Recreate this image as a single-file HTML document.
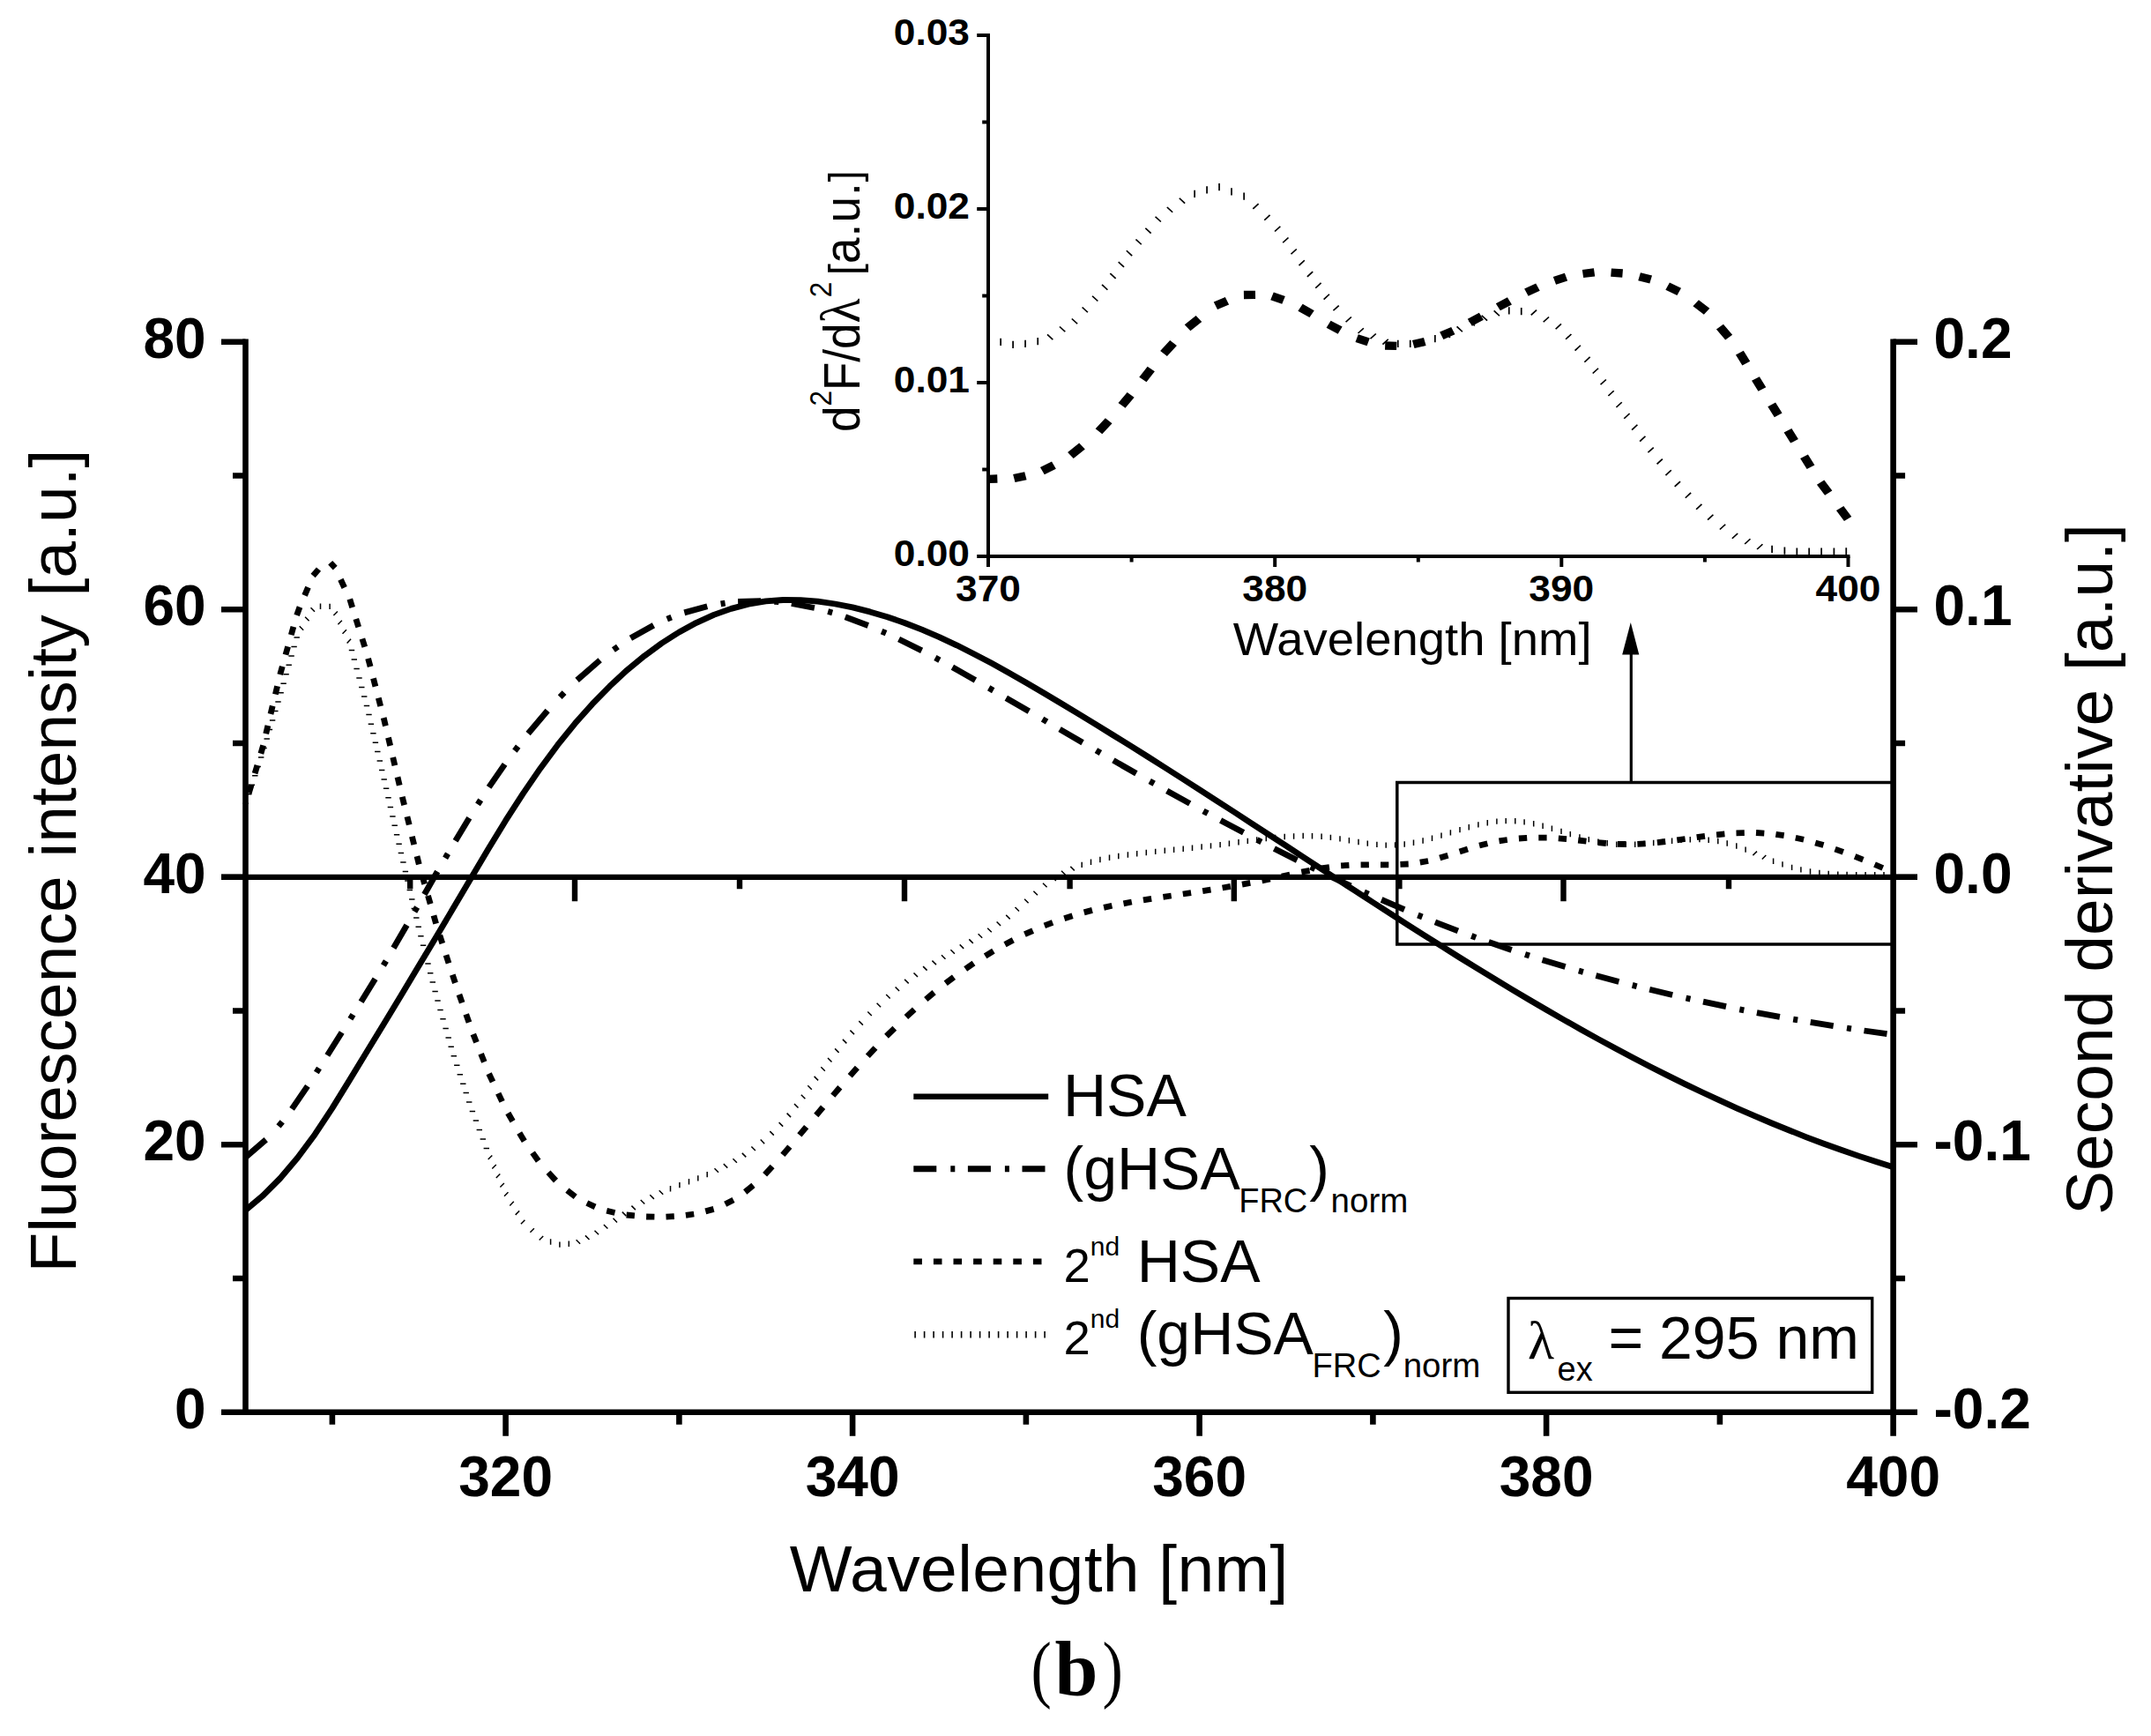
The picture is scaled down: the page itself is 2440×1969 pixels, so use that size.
<!DOCTYPE html>
<html><head><meta charset="utf-8"><title>Fluorescence spectra (b)</title>
<style>html,body{margin:0;padding:0;background:#fff}svg{display:block}text{fill:#000}</style></head><body>
<svg width="2440" height="1969" viewBox="0 0 2440 1969">
<rect width="2440" height="1969" fill="#fff"/>
<g stroke="#000" stroke-width="6.6" fill="none" stroke-linecap="butt">
<path d="M278.5 384.4 V1605.0"/>
<path d="M2147.6 384.4 V1628.7"/>
<path d="M251.0 1601.7 H2175.0"/>
<path d="M264.0 1450.0H278.5M2147.6 1450.0H2161.1M251.0 1298.2H278.5M2147.6 1298.2H2175.0M264.0 1146.5H278.5M2147.6 1146.5H2161.1M251.0 994.7H278.5M2147.6 994.7H2175.0M264.0 843.0H278.5M2147.6 843.0H2161.1M251.0 691.2H278.5M2147.6 691.2H2175.0M264.0 539.5H278.5M2147.6 539.5H2161.1M251.0 387.7H278.5M2147.6 387.7H2175.0"/>
<path d="M376.9 1601.7V1615.7M573.6 1601.7V1628.7M770.4 1601.7V1615.7M967.1 1601.7V1628.7M1163.9 1601.7V1615.7M1360.6 1601.7V1628.7M1557.4 1601.7V1615.7M1754.1 1601.7V1628.7M1950.9 1601.7V1615.7"/>
</g>
<g stroke="#000" stroke-width="6.2" fill="none">
<path d="M251.0 994.8H2175.0"/>
<path d="M465.2 994.8V1008.3M652 994.8V1022.1999999999999M839 994.8V1008.3M1026 994.8V1022.1999999999999M1213.6 994.8V1008.3M1399.8 994.8V1022.1999999999999M1587.4 994.8V1008.3M1773.5 994.8V1022.1999999999999M1961 994.8V1008.3" stroke-width="6.4"/>
</g>
<path d="M1584.8 887.4H2147.6M1584.8 885.7V1072.7M1584.8 1071H2147.6" stroke="#000" stroke-width="3.5" fill="none"/>
<path d="M1850.3 887V740" stroke="#000" stroke-width="3.2" fill="none"/>
<path d="M1849.8 706L1840.2 742.5H1859.3Z" fill="#000"/>
<path d="M278.5 1372.7 L298.2 1356.2 L317.8 1336.5 L337.5 1313.3 L357.2 1286.7 L376.9 1256.9 L396.5 1225.1 L416.2 1192.8 L435.9 1160.4 L455.6 1127.9 L475.2 1095.2 L494.9 1062.4 L514.6 1029.3 L534.3 996 L553.9 962.9 L573.6 930.7 L593.3 900.1 L613 871.4 L632.6 844.9 L652.3 820.6 L672 798.4 L691.7 778.3 L711.3 760.1 L731 743.9 L750.7 729.5 L770.4 717 L790 706.3 L809.7 697.4 L829.4 690.4 L849.1 685.2 L868.7 681.9 L888.4 680.5 L908.1 680.6 L927.8 682.2 L947.4 685 L967.1 688.9 L986.8 693.9 L1006.5 699.7 L1026.1 706.5 L1045.8 714.2 L1065.5 722.6 L1085.2 731.8 L1104.8 741.7 L1124.5 752.1 L1144.2 763 L1163.9 774.3 L1183.5 785.8 L1203.2 797.5 L1222.9 809.4 L1242.6 821.3 L1262.2 833.5 L1281.9 845.7 L1301.6 858 L1321.3 870.5 L1340.9 883 L1360.6 895.6 L1380.3 908.3 L1400 921 L1419.6 933.8 L1439.3 946.6 L1459 959.4 L1478.7 972.3 L1498.3 985.1 L1518 998 L1537.7 1010.7 L1557.4 1023.5 L1577 1036.2 L1596.7 1048.8 L1616.4 1061.3 L1636.1 1073.7 L1655.7 1086 L1675.4 1098.2 L1695.1 1110.2 L1714.8 1122.1 L1734.4 1133.7 L1754.1 1145.3 L1773.8 1156.6 L1793.5 1167.7 L1813.1 1178.6 L1832.8 1189.3 L1852.5 1199.7 L1872.2 1209.9 L1891.8 1219.9 L1911.5 1229.6 L1931.2 1239 L1950.9 1248.2 L1970.5 1257.1 L1990.2 1265.7 L2009.9 1274 L2029.6 1282 L2049.2 1289.8 L2068.9 1297.2 L2088.6 1304.3 L2108.3 1311.1 L2127.9 1317.6 L2147.6 1323.7" stroke="#000" stroke-width="6.8" fill="none" stroke-linejoin="round"/>
<path d="M278.5 1312.7 L301.7 1292.7 M316 1277.4 L320.2 1272.4 M331.1 1257.8 L348.9 1231.8 M358.9 1216.5 L362 1211.5 M371.3 1197 L387.7 1171 M397.4 1155.7 L400.5 1150.7 M409.6 1136.2 L425.6 1110.2 M434.9 1094.9 L437.9 1089.9 M446.4 1075.3 L461.5 1049.3 M470.2 1034 L473.1 1029 M481.4 1014.5 L496.2 988.5 M505.1 973.2 L508 968.2 M516.6 953.7 L532.3 927.7 M542 912.4 L545.2 907.4 M554.6 892.9 L572.6 866.9 M583.9 851.6 L587.7 846.6 M599.1 832 L621.1 806 M635.2 790.7 L640.1 785.7 M654.6 771.4 L680.6 748.8 M695.9 737 L700.9 733.5 M715.4 723.8 L741.4 709.3 M756.7 702.2 L761.7 700.2 M776.3 694.9 L802.3 687.8 M817.6 684.9 L822.6 684.1 M837.1 682.5 L863.1 681.6 M878.4 682.3 L883.4 682.7 M897.9 684.5 L923.9 689.5 M939.2 693.6 L944.2 695 M958.8 699.8 L984.8 709.5 M1000.1 716.1 L1005.1 718.2 M1019.6 725 L1045.6 737.9 M1060.9 746 L1065.9 748.7 M1080.4 756.7 L1106.4 771.5 M1121.7 780.3 L1126.7 783.2 M1141.3 791.7 L1167.3 806.8 M1182.6 815.7 L1187.6 818.7 M1202.1 827.1 L1228.1 842.2 M1243.4 851.1 L1248.4 854 M1262.9 862.4 L1288.9 877.3 M1304.2 886 L1309.2 888.8 M1323.7 897 L1349.7 911.4 M1365 919.9 L1370 922.6 M1384.6 930.5 L1410.6 944.3 M1425.9 952.4 L1430.9 955 M1445.4 962.5 L1471.4 975.6 M1486.7 983.1 L1491.7 985.6 M1506.2 992.6 L1532.2 1004.8 M1547.5 1011.8 L1552.5 1014 M1567.1 1020.5 L1593.1 1031.6 M1608.4 1038 L1613.4 1040 M1627.9 1045.9 L1653.9 1055.9 M1669.2 1061.5 L1674.2 1063.4 M1688.7 1068.5 L1714.7 1077.5 M1730 1082.5 L1735 1084.1 M1749.6 1088.7 L1775.6 1096.6 M1790.9 1101 L1795.9 1102.4 M1810.4 1106.5 L1836.4 1113.5 M1851.7 1117.4 L1856.7 1118.7 M1871.2 1122.3 L1897.2 1128.5 M1912.5 1132 L1917.5 1133.1 M1932 1136.2 L1958 1141.7 M1973.3 1144.8 L1978.3 1145.8 M1992.9 1148.6 L2018.9 1153.4 M2034.2 1156.1 L2039.2 1156.9 M2053.7 1159.4 L2079.7 1163.6 M2095 1166 L2100 1166.8 M2114.5 1169 L2140.5 1172.7" stroke="#000" stroke-width="6.8" fill="none"/>
<path d="M282.3 899.6 L285.1 890.3 M289.1 877.2 L291.9 867.9 M295.9 854.7 L298.6 845.4 M301.7 832.3 L303.9 823 M307 809.9 L309.2 800.6 M312.4 787.5 L314.6 778.2 M317.7 765.1 L320.3 755.8 M324 742.6 L326.6 733.3 M330.3 720.2 L332.9 710.9 M336.6 697.8 L340 688.5 M345.6 675.4 L349.5 666.1 M355.1 653 L361.5 645.6 M374.7 638.2 L380.2 644.1 M386.4 657.2 L390.7 666.5 M396.8 679.6 L399.7 688.9 M403.8 702 L406.7 711.3 M410.9 724.5 L413.8 733.8 M417.6 746.9 L420.1 756.2 M423.5 769.3 L425.9 778.6 M429.3 791.7 L431.7 801 M435.2 814.1 L437.4 823.4 M440.5 836.6 L442.7 845.9 M445.7 859 L447.9 868.3 M451 881.4 L453.2 890.7 M456.3 903.8 L458.6 913.1 M461.9 926.2 L464.2 935.5 M467.4 948.7 L469.7 958 M473 971.1 L475.3 980.4 M479 993.5 L481.7 1002.8 M485.5 1015.9 L488.2 1025.2 M492 1038.3 L494.6 1047.6 M498.8 1060.8 L501.8 1070.1 M506 1083.2 L509 1092.5 M513.3 1105.6 L516.4 1114.9 M520.9 1128 L524.2 1137.3 M528.7 1150.4 L532 1159.7 M536.8 1172.9 L540.5 1182.2 M545.6 1195.3 L549.3 1204.6 M554.6 1217.7 L559 1227 M565.2 1240.1 L569.6 1249.4 M576.3 1262.5 L581.6 1271.8 M589.2 1285 L594.8 1294.3 M604.1 1307.4 L610.7 1316.7 M622 1329.8 L630.5 1339.1 M643.4 1350.1 L652.7 1357.4 M665.8 1364.5 L675.1 1368.9 M688.2 1373.3 L697.5 1375.5 M710.6 1378 L719.9 1378.9 M733.1 1380 L742.4 1380.2 M755.5 1380.1 L764.8 1379.6 M777.9 1378.3 L787.2 1377 M800.3 1373.9 L809.6 1371.4 M822.7 1365.7 L832 1361 M845.2 1352 L854.5 1344.4 M867.6 1332.2 L876.1 1323 M887.9 1309.9 L895.8 1300.6 M906.9 1287.4 L914.7 1278.1 M925.8 1265 L933.6 1255.7 M944.8 1242.6 L952.8 1233.3 M964.2 1220.2 L972.4 1210.9 M984.3 1197.8 L993 1188.5 M1005.5 1175.3 L1014.8 1166.2 M1027.9 1153.5 L1037.2 1145 M1050.3 1133.5 L1059.6 1125.7 M1072.7 1115.3 L1082 1108.2 M1095.2 1099 L1104.5 1092.5 M1117.6 1084.3 L1126.9 1078.6 M1140 1071.2 L1149.3 1066.3 M1162.4 1059.7 L1171.7 1055.6 M1184.8 1049.9 L1194.1 1046.4 M1207.3 1041.7 L1216.6 1038.7 M1229.7 1034.9 L1239 1032.4 M1252.1 1029.4 L1261.4 1027.3 M1274.5 1024.8 L1283.8 1023 M1296.9 1020.8 L1306.2 1019.3 M1319.4 1017.3 L1328.7 1016 M1341.8 1014 L1351.1 1012.6 M1364.2 1010.7 L1373.5 1009.2 M1386.6 1007 L1395.9 1005.4 M1409 1003.1 L1418.3 1001.4 M1431.5 998.8 L1440.8 996.9 M1453.9 994.1 L1463.2 992.1 M1476.3 989.2 L1485.6 987.4 M1498.7 984.8 L1508 983.5 M1521.1 981.9 L1530.4 981.3 M1543.6 980.9 L1552.9 980.8 M1566 980.8 L1575.3 980.9 M1588.4 980.4 L1597.7 980 M1610.8 978.2 L1620.1 976.5 M1633.2 973.1 L1642.5 970.3 M1655.7 966 L1665 963 M1678.1 959 L1687.4 956.7 M1700.5 953.9 L1709.8 952.5 M1722.9 951 L1732.2 950.3 M1745.3 950.1 L1754.6 950.1 M1767.8 950.9 L1777.1 951.6 M1790.2 953 L1799.5 954.1 M1812.6 955.7 L1821.9 956.5 M1835 957.4 L1844.3 957.5 M1857.4 957.3 L1866.7 956.8 M1879.9 955.6 L1889.2 954.5 M1902.3 952.8 L1911.6 951.5 M1924.7 949.7 L1934 948.4 M1947.1 946.8 L1956.4 945.9 M1969.5 944.8 L1978.8 944.6 M1992 944.5 L2001.3 945.1 M2014.4 946.3 L2023.7 947.7 M2036.8 950.3 L2046.1 952.3 M2059.2 955.9 L2068.5 958.6 M2081.6 963.1 L2090.9 966.4 M2104.1 971.4 L2113.4 975.1 M2126.5 980.5 L2135.8 984.5" stroke="#000" stroke-width="6.8" fill="none"/>
<path d="M275.6 911.3L282 911.3M279.1 900.8L285.5 900.8M282.6 890.3L289 890.3M286.1 879.7L292.5 879.7M289.5 869.4L295.9 869.4M293 858.9L299.4 858.9M296.3 848.4L302.7 848.4M299.5 838.1L305.9 838.1M302.7 827.6L309.1 827.6M305.9 817.1L312.3 817.1M309.1 806.6L315.5 806.6M312.3 796.1L318.7 796.1M315.4 785.8L321.8 785.8M318.4 775.3L324.8 775.3M321.4 764.7L327.8 764.7M324.5 754.2L330.9 754.2M327.4 743.9L333.8 743.9M330.4 733.4L336.8 733.4M333.5 722.9L339.9 722.9M339.7 710.3L344.2 714.8M346.1 699.8L350.6 704.3M352.5 689.2L357 693.8M363.5 684.5L363.5 690.9M374.1 684.7L374.1 691.1M382.9 693.5L378.4 698M387.9 703.8L383.4 708.3M393 714.3L388.5 718.8M398.1 724.8L393.6 729.4M402.2 737.6L395.8 737.6M405 747.9L398.6 747.9M407.8 758.4L401.4 758.4M410.7 768.9L404.3 768.9M413.5 779.4L407.1 779.4M416.4 789.9L410 789.9M419.2 800.4L412.8 800.4M421.7 810.6L415.3 810.6M424.1 821.2L417.7 821.2M426.6 831.7L420.2 831.7M429.1 842.2L422.7 842.2M431.5 852.5L425.1 852.5M434 863L427.6 863M436.4 873.5L430 873.5M438.9 884L432.5 884M441.3 894.3L434.9 894.3M443.7 904.8L437.3 904.8M446.1 915.4L439.7 915.4M448.6 925.9L442.2 925.9M450.9 936.2L444.5 936.2M453.3 946.7L446.9 946.7M455.8 957.2L449.4 957.2M458.1 967.5L451.7 967.5M460.6 978L454.2 978M463.1 988.6L456.7 988.6M465.6 999.1L459.2 999.1M468 1009.4L461.6 1009.4M470.5 1019.9L464.1 1019.9M473 1030.4L466.6 1030.4M475.5 1041L469.1 1041M477.9 1051.2L471.5 1051.2M480.6 1061.8L474.2 1061.8M483.3 1072.3L476.9 1072.3M486 1082.6L479.6 1082.6M488.7 1093.1L482.3 1093.1M491.4 1103.7L485 1103.7M494 1113.9L487.6 1113.9M496.8 1124.5L490.4 1124.5M499.7 1135L493.3 1135M502.7 1145.5L496.3 1145.5M505.7 1155.8L499.3 1155.8M508.8 1166.4L502.4 1166.4M511.9 1176.9L505.5 1176.9M514.9 1187.2L508.5 1187.2M518 1197.7L511.6 1197.7M521.5 1208.2L515.1 1208.2M525 1218.7L518.6 1218.7M528.5 1229.2L522.1 1229.2M531.9 1239.5L525.5 1239.5M535.4 1250L529 1250M539.1 1260.5L532.7 1260.5M543.1 1271.1L536.7 1271.1M547 1281.4L540.6 1281.4M551 1291.9L544.6 1291.9M555 1302.5L548.6 1302.5M558.3 1310.5L553.7 1315M562.8 1321L558.3 1325.5M567.3 1331.5L562.8 1336M571.9 1342L567.4 1346.5M576.5 1352.3L572 1356.8M582.8 1362.8L578.3 1367.4M589.2 1373.4L584.7 1377.9M595.4 1383.7L590.9 1388.2M605.9 1393.2L601.4 1397.8M616.2 1402L611.7 1406.5M624.6 1405.3L624.6 1411.7M634.9 1408.4L634.9 1414.8M645.3 1407.5L645.3 1413.9M653.6 1406.2L658.1 1410.7M663.9 1401.4L668.5 1406M674.5 1395.7L679.1 1400.2M684.9 1389L689.4 1393.5M695.5 1381.8L700 1386.4M705.8 1374.6L710.3 1379.1M716.4 1367.6L720.9 1372.1M726.7 1361L731.3 1365.5M737.3 1355.3L741.9 1359.9M747.7 1350.2L752.2 1354.7M760.5 1345L760.5 1351.4M770.9 1340.9L770.9 1347.3M781.5 1337L781.5 1343.4M791.8 1333.2L791.8 1339.6M802.2 1328.9L802.2 1335.3M810.5 1325.3L815 1329.8M820.8 1320.1L825.3 1324.6M831.4 1314.2L835.9 1318.8M841.8 1307.9L846.3 1312.4M852.4 1300.5L856.9 1305.1M862.7 1292.6L867.2 1297.2M873.3 1283.1L877.8 1287.6M883.6 1273.1L888.2 1277.6M892.6 1262.6L897.1 1267.1M901 1252L905.5 1256.6M908.8 1241.7L913.4 1246.3M916.3 1231.2L920.8 1235.7M923.6 1220.9L928.1 1225.4M931.3 1210.3L935.8 1214.8M939 1200L943.5 1204.5M947.1 1189.4L951.6 1193.9M955.9 1178.9L960.4 1183.4M964.4 1168.6L969 1173.1M974.3 1158.1L978.9 1162.6M984.3 1147.5L988.8 1152M994.6 1137.8L999.1 1142.3M1005.2 1128L1009.7 1132.5M1015.6 1119.4L1020.1 1124M1026.1 1110.9L1030.7 1115.4M1036.5 1103.4L1041 1108M1047.1 1096.1L1051.6 1100.6M1057.4 1089.6L1062 1094.1M1068 1083.2L1072.5 1087.7M1078.4 1077.3L1082.9 1081.8M1088.7 1071.4L1093.2 1075.9M1099.3 1065.4L1103.8 1069.9M1109.6 1059.2L1114.2 1063.8M1120.2 1052.8L1124.8 1057.3M1130.6 1045.5L1135.1 1050.1M1141.2 1037.9L1145.7 1042.4M1151.5 1029L1156 1033.5M1162.1 1019.8L1166.6 1024.3M1172.4 1010.7L1177 1015.3M1183 1001.8L1187.6 1006.3M1193.4 994.5L1197.9 999M1204 987.8L1208.5 992.3M1214.3 982.9L1218.8 987.4M1227.2 977.7L1227.2 984.1M1237.5 974.5L1237.5 980.9M1247.9 971.8L1247.9 978.2M1258.5 969.6L1258.5 976M1268.8 967.8L1268.8 974.2M1279.4 966.3L1279.4 972.7M1289.7 965L1289.7 971.4M1300.3 963.8L1300.3 970.2M1310.7 962.7L1310.7 969.1M1321.3 961.6L1321.3 968M1331.6 960.6L1331.6 967M1342.2 959.5L1342.2 965.9M1352.5 958.5L1352.5 964.9M1363.1 957.3L1363.1 963.7M1373.5 956.2L1373.5 962.6M1384.1 954.9L1384.1 961.3M1394.4 953.5L1394.4 959.9M1405 952.1L1405 958.5M1415.3 950.7L1415.3 957.1M1425.7 949.3L1425.7 955.7M1436.3 947.9L1436.3 954.3M1446.6 946.8L1446.6 953.2M1457.2 945.8L1457.2 952.2M1467.6 945.3L1467.6 951.7M1478.2 944.8L1478.2 951.2M1488.5 945.1L1488.5 951.5M1499.1 945.5L1499.1 951.9M1509.4 946.7L1509.4 953.1M1520 948.2L1520 954.6M1530.4 950L1530.4 956.4M1541 951.8L1541 958.2M1551.3 953.4L1551.3 959.8M1561.9 954.7L1561.9 961.1M1572.2 955.4L1572.2 961.8M1582.6 955.2L1582.6 961.6M1593.2 954.3L1593.2 960.7M1603.5 952.5L1603.5 958.9M1614.1 950.3L1614.1 956.7M1624.5 947.5L1624.5 953.9M1635 944.4L1635 950.8M1645.4 941.2L1645.4 947.6M1656 937.9L1656 944.3M1666.3 935L1666.3 941.4M1676.9 932.2L1676.9 938.6M1687.3 930.1L1687.3 936.5M1697.9 928.4L1697.9 934.8M1708.2 927.9L1708.2 934.3M1718.8 928L1718.8 934.4M1729.1 929.2L1729.1 935.6M1739.7 931L1739.7 937.4M1750.1 933.6L1750.1 940M1760.4 936.5L1760.4 942.9M1771 939.7L1771 946.1M1781.3 942.9L1781.3 949.3M1791.9 946.2L1791.9 952.6M1802.3 948.9L1802.3 955.3M1812.9 951.6L1812.9 958M1823.2 953.1L1823.2 959.5M1833.8 954.5L1833.8 960.9M1844.2 954.6L1844.2 961M1854.7 954.5L1854.7 960.9M1865.1 953.7L1865.1 960.1M1875.7 952.8L1875.7 959.2M1886 951.7L1886 958.1M1896.6 950.6L1896.6 957M1907 949.7L1907 956.1M1917.3 949.1L1917.3 955.5M1927.9 948.9L1927.9 955.3M1938.2 949.6L1938.2 956M1948.8 950.8L1948.8 957.2M1959.2 953.3L1959.2 959.7M1969.8 956.3L1969.8 962.7M1980.1 960.4L1980.1 966.8M1993 965.6L1988.4 970.1M2003.3 970L1998.8 974.5M2011.6 973.5L2011.6 979.9M2022 977.2L2022 983.6M2032.6 980.7L2032.6 987.1M2042.9 983.2L2042.9 989.6M2053.5 985.3L2053.5 991.7M2063.9 986.7L2063.9 993.1M2074.2 987.8L2074.2 994.2M2084.8 988.5L2084.8 994.9M2095.1 988.8L2095.1 995.2M2105.7 989L2105.7 995.4M2116.1 989L2116.1 995.4M2126.7 988.9L2126.7 995.3M2137 988.9L2137 995.3M2147.6 988.8L2147.6 995.2" stroke="#000" stroke-width="1.5" fill="none"/>
<g stroke="#000" stroke-width="4.0" fill="none">
<path d="M1121.0 37.9V643.0M1108.2 631.0H2098.5"/>
<path d="M1114.2 532.5H1121.0M1108.2 434.0H1121.0M1114.2 335.4H1121.0M1108.2 236.9H1121.0M1114.2 138.4H1121.0M1108.2 39.9H1121.0M1283.6 631.0V637.5M1446.2 631.0V643.0M1608.8 631.0V637.5M1771.3 631.0V643.0M1933.9 631.0V637.5M2096.5 631.0V643.0"/>
</g>
<g transform="translate(1121.0,0) scale(1.09,1)">
<path d="M0 543.3 L9.5 543 M26.9 542.6 L38.9 539.7 M56.3 534.1 L68.3 527.6 M85.7 516.5 L97.7 506.1 M115.1 489.2 L125.4 477.3 M139 459.9 L148.3 447.9 M160.9 430.5 L169.5 418.5 M182.6 401.1 L192.7 389.1 M207.4 371.7 L219.2 361.4 M236.6 346.8 L248.6 341.2 M266 334.5 L278 334.3 M295.4 335.8 L307.4 340.3 M324.8 348.7 L336.8 356.1 M354.2 367.8 L366.2 374.6 M383.6 383.7 L395.6 387.8 M413 392 L425 392.4 M442.4 390.6 L454.4 387.4 M471.8 380.7 L483.8 375.1 M501.2 365.7 L513.2 358.8 M530.6 348.3 L542.6 341.4 M560 331.6 L572 325.6 M589.4 318.3 L601.4 314.2 M618.8 310.5 L630.8 308.9 M648.2 309.1 L660.2 310 M677.6 313.8 L689.6 317.1 M707 324.7 L719 330.8 M736.4 343.7 L747.8 353.3 M761.4 370.7 L770.8 382.7 M782 400.1 L788.8 412.1 M798.6 429.5 L805.4 441.5 M815.3 458.9 L822.2 470.9 M832.1 488.3 L839 500.3 M849.1 517.7 L856 529.7 M866.2 547.1 L874.5 559.1 M886.4 576.5 L894.6 588.5" stroke="#000" stroke-width="9.3" fill="none"/>
<path d="M13 383.8L13 392M25.8 386.7L25.8 394.9M38.6 385.8L38.6 394M51.6 383.1L51.6 391.3M61.5 379.4L67.3 385.2M74.3 370.5L80.1 376.3M87 361.5L92.8 367.3M97.8 348.5L103.6 354.3M108.3 335.7L114.1 341.5M118.4 322.9L124.2 328.7M126.9 310.1L132.7 315.9M135.5 297.1L141.3 302.9M143.9 284.3L149.7 290.1M153.6 271.5L159.4 277.3M163.6 258.8L169.4 264.6M173.9 245.7L179.7 251.5M186.1 235L191.9 240.8M198.9 224.8L204.7 230.6M214.8 215.8L214.8 224M227.6 211.3L227.6 219.5M240.4 208.1L240.4 216.3M253.2 213.2L253.2 221.4M266.2 218.5L266.2 226.7M281.3 231.1L275.5 236.9M293.2 243.9L287.4 249.7M304 256.7L298.2 262.5M312.4 269.5L306.6 275.3M320.9 282.5L315.1 288.3M329.2 295.3L323.4 301.1M337.8 308.1L332 313.9M346.4 320.9L340.6 326.7M355 333.8L349.2 339.6M364.9 346.6L359.1 352.3M377.9 359.5L372.1 365.3M390.7 372.2L384.9 378M403.5 378.5L397.7 384.3M416.3 384.8L410.5 390.6M426.4 385.7L426.4 393.9M439.2 385.8L439.2 394M452 384.4L452 392.6M465 380.1L465 388.3M474.9 377.1L480.7 382.9M487.7 370.4L493.5 376.2M500.5 363.7L506.3 369.5M513.5 357.8L519.3 363.6M526.3 352.4L532.1 358.2M542 348.2L542 356.4M554.8 349L554.8 357.2M570.7 351.6L564.9 357.4M583.5 359.5L577.7 365.3M596.3 367.4L590.5 373.2M606.8 379L601 384.8M616.4 391.8L610.6 397.6M626.3 404.9L620.5 410.7M634.9 417.7L629.1 423.5M643 430.5L637.2 436.3M651.1 443.2L645.3 449M659.4 456.2L653.6 462M667.5 469L661.7 474.8M675.6 481.8L669.8 487.6M683.9 494.8L678.1 500.6M692.4 507.6L686.6 513.3M701.7 520.6L695.9 526.4M710.8 533.3L705 539.1M720.2 546.1L714.4 551.9M731.3 558.9L725.5 564.7M742.6 571.9L736.8 577.7M754.5 583.8L748.7 589.6M767.2 594.7L761.4 600.5M780 605L774.2 610.8M793.1 611.2L787.3 617M805.9 617.2L800.1 623M815.7 618.7L815.7 626.9M828.8 620.6L828.8 628.8M841.6 621.5L841.6 629.7M854.3 621.5L854.3 629.7M867.1 621.5L867.1 629.7M880.2 621.4L880.2 629.6M892.9 621.3L892.9 629.5" stroke="#000" stroke-width="1.6" fill="none"/>
</g>
<g font-family="'Liberation Sans',Arial,Helvetica,sans-serif" font-weight="bold" font-size="64">
<text x="233.6" y="1619.5" text-anchor="end">0</text>
<text x="233.6" y="1316.0" text-anchor="end">20</text>
<text x="233.6" y="1012.5" text-anchor="end">40</text>
<text x="233.6" y="709.0" text-anchor="end">60</text>
<text x="233.6" y="405.5" text-anchor="end">80</text>
<text x="2193.5" y="405.6">0.2</text>
<text x="2193.5" y="709.1">0.1</text>
<text x="2193.5" y="1012.6">0.0</text>
<text x="2193.5" y="1316.1">-0.1</text>
<text x="2193.5" y="1619.6">-0.2</text>
<text x="573.6" y="1696.6" text-anchor="middle">320</text>
<text x="967.1" y="1696.6" text-anchor="middle">340</text>
<text x="1360.6" y="1696.6" text-anchor="middle">360</text>
<text x="1754.1" y="1696.6" text-anchor="middle">380</text>
<text x="2147.6" y="1696.6" text-anchor="middle">400</text>
</g>
<g font-family="'Liberation Sans',Arial,Helvetica,sans-serif" font-size="75">
<text x="1178.7" y="1805" text-anchor="middle" letter-spacing="0.4">Wavelength [nm]</text>
<text transform="translate(86,1443.5) rotate(-90)">Fluorescence intensity [a.u.]</text>
<text transform="translate(2396.2,1378) rotate(-90)">Second derivative [a.u.]</text>
</g>
<g font-family="'Liberation Serif','Times New Roman',serif">
<text transform="translate(1169.5,1920.7) scale(1,1.197)" font-size="70">(</text>
<text x="1196.5" y="1922.5" font-size="88" font-weight="bold">b</text>
<text transform="translate(1250.6,1920.7) scale(1,1.197)" font-size="70">)</text>
</g>
<g stroke="#000" fill="none">
<path d="M1036.3 1243.7H1189.2" stroke-width="6.6"/>
<path d="M1036.3 1325.7H1189.2" stroke-width="7" stroke-dasharray="26 16 5 14.6"/>
<path d="M1036.3 1430.8H1189.2" stroke-width="6.8" stroke-dasharray="9.6 13"/>
<path d="M1037.3 1513.8H1189.2" stroke-width="7.5" stroke-dasharray="1.6 8.9"/>
</g>
<g font-family="'Liberation Sans',Arial,Helvetica,sans-serif">
<text x="1206" y="1265.9" font-size="68">HSA</text>
<text x="1206.5" y="1349" font-size="68">(gHSA</text>
<text x="1405.2" y="1374.7" font-size="38">FRC</text>
<text x="1485.3" y="1349" font-size="68">)</text>
<text x="1509.6" y="1374.7" font-size="38.5">norm</text>
<text x="1206.5" y="1454" font-size="54.5">2</text>
<text x="1236.8" y="1423.9" font-size="30">nd</text>
<text x="1289.7" y="1454" font-size="68">HSA</text>
<text x="1206.5" y="1535.9" font-size="54.5">2</text>
<text x="1236.8" y="1505.7" font-size="30">nd</text>
<text x="1289.7" y="1535.9" font-size="68">(gHSA</text>
<text x="1488.6" y="1561.8" font-size="38">FRC</text>
<text x="1569.3" y="1535.9" font-size="68">)</text>
<text x="1591.7" y="1561.8" font-size="38.5">norm</text>
</g>
<rect x="1711" y="1472.5" width="412.7" height="106.8" fill="none" stroke="#000" stroke-width="3.4"/>
<text font-family="'Liberation Serif','Times New Roman',serif" font-size="62" x="1733" y="1540.5">λ</text>
<g font-family="'Liberation Sans',Arial,Helvetica,sans-serif">
<text x="1766.5" y="1565.9" font-size="38">ex</text>
<text x="1824.5" y="1540.7" font-size="68">=</text>
<text x="1882" y="1540.7" font-size="68">295</text>
<text x="2014.5" y="1540.7" font-size="68">nm</text>
</g>
<g font-family="'Liberation Sans',Arial,Helvetica,sans-serif" font-weight="bold" font-size="41.6">
<text transform="translate(1100,641.8) scale(1.065,1)" text-anchor="end">0.00</text>
<text transform="translate(1100,444.8) scale(1.065,1)" text-anchor="end">0.01</text>
<text transform="translate(1100,247.7) scale(1.065,1)" text-anchor="end">0.02</text>
<text transform="translate(1100,50.7) scale(1.065,1)" text-anchor="end">0.03</text>
<text transform="translate(1121.0,681.7) scale(1.065,1)" text-anchor="middle">370</text>
<text transform="translate(1446.2,681.7) scale(1.065,1)" text-anchor="middle">380</text>
<text transform="translate(1771.3,681.7) scale(1.065,1)" text-anchor="middle">390</text>
<text transform="translate(2096.5,681.7) scale(1.065,1)" text-anchor="middle">400</text>
</g>
<g font-family="'Liberation Sans',Arial,Helvetica,sans-serif">
<text transform="translate(1602.2,742.8) scale(1.06,1)" font-size="51.4" text-anchor="middle">Wavelength [nm]</text>
<text transform="translate(974.7,490) scale(1.085,1) rotate(-90)" font-size="53">d<tspan font-size="31.5" dy="-28.8">2</tspan><tspan dy="28.8">F/d</tspan><tspan font-family="'Liberation Serif','Times New Roman',serif" font-size="58">λ</tspan><tspan font-size="31.5" dy="-28.8" dx="1">2</tspan><tspan dy="28.8" dx="-5" font-size="46.5"> [</tspan><tspan letter-spacing="1.1">a.u.</tspan><tspan font-size="46.5">]</tspan></text>
</g>
</svg></body></html>
